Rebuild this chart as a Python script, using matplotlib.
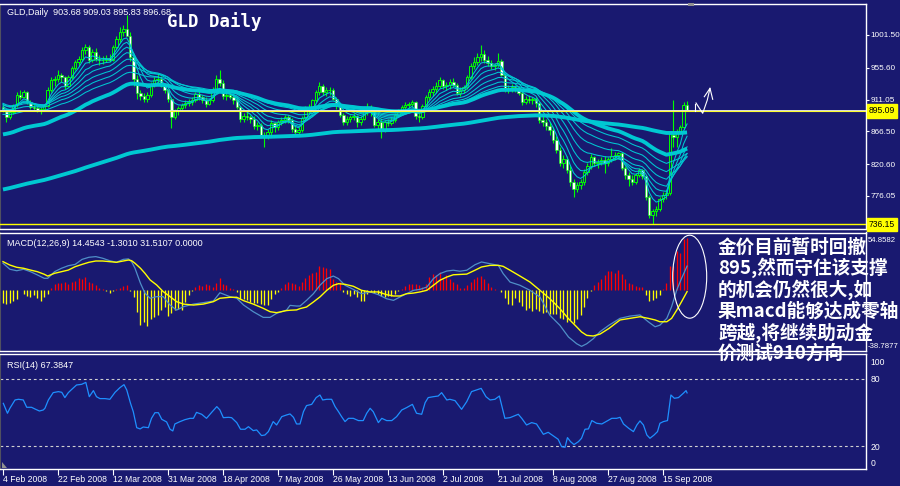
import numpy as np
import matplotlib.pyplot as plt
from matplotlib.patches import Ellipse, Polygon
from matplotlib.lines import Line2D

plt.rcParams['font.family'] = ['Liberation Sans', 'DejaVu Sans']

# ---- candles (one per bar, Sunday bars included) ----
opens = [900, 897, 886, 893, 903, 918, 915, 921, 908, 901,
         899, 896, 898, 902, 924, 938, 940, 945, 942, 930,
         942, 955, 963, 968, 980, 985, 966, 978, 968, 966,
         967, 969, 966, 985, 996, 1005, 1010, 1000, 970, 940,
         920, 916, 912, 918, 932, 938, 940, 930, 924, 912,
         886, 895, 899, 903, 906, 908, 910, 919, 914, 910,
         905, 910, 925, 940, 934, 916, 918, 915, 910, 900,
         884, 888, 886, 884, 874, 876, 862, 860, 866, 878,
         872, 879, 883, 886, 882, 870, 866, 868, 885, 898,
         900, 910, 922, 930, 922, 924, 925, 912, 902, 890,
         880, 884, 886, 888, 880, 884, 895, 900, 895, 876,
         880, 870, 879, 878, 883, 889, 895, 900, 903, 905,
         907, 888, 886, 902, 914, 922, 926, 930, 938, 930,
         932, 936, 932, 920, 924, 928, 942, 958, 964, 970,
         975, 966, 962, 958, 959, 965, 946, 925, 926, 929,
         927, 920, 908, 912, 910, 912, 906, 882, 880, 874,
         868, 855, 840, 822, 828, 812, 795, 786, 792, 796,
         810, 818, 830, 822, 824, 826, 822, 828, 832, 834,
         836, 815, 806, 800, 796, 805, 812, 804, 775, 750,
         755, 758, 772, 778, 780, 862, 858, 866, 872, 903.68]
highs = [905, 899, 896, 905, 922, 925, 924, 923, 911, 906,
         903, 901, 905, 928, 942, 944, 952, 948, 944, 945,
         958, 966, 972, 984, 989, 987, 982, 983, 974, 972,
         973, 975, 988, 1000, 1012, 1015, 1030, 1006, 975, 945,
         925, 920, 922, 936, 942, 948, 944, 934, 926, 914,
         898, 902, 906, 910, 912, 914, 922, 924, 918, 914,
         912, 928, 945, 952, 938, 922, 921, 918, 914, 902,
         892, 893, 890, 888, 880, 878, 866, 870, 882, 880,
         882, 886, 890, 889, 885, 874, 872, 888, 902, 905,
         912, 925, 935, 933, 928, 928, 927, 915, 905, 892,
         888, 890, 892, 890, 888, 898, 906, 903, 897, 884,
         885, 882, 884, 886, 892, 898, 903, 907, 908, 910,
         909, 892, 905, 918, 926, 930, 935, 942, 940, 935,
         940, 941, 934, 928, 932, 946, 962, 970, 976, 987,
         980, 972, 966, 962, 976, 968, 948, 932, 933, 932,
         930, 924, 916, 918, 915, 914, 908, 888, 884, 880,
         872, 860, 845, 834, 832, 818, 800, 796, 800, 814,
         822, 835, 832, 828, 830, 832, 830, 843, 838, 838,
         838, 818, 810, 805, 808, 815, 814, 806, 778, 758,
         762, 775, 782, 785, 866, 910, 870, 876, 908, 909.03]
lows = [893, 880, 884, 891, 901, 912, 913, 905, 898, 895,
        893, 891, 895, 900, 921, 930, 935, 936, 926, 928,
        940, 952, 958, 965, 975, 962, 964, 965, 960, 961,
        963, 964, 965, 982, 992, 1000, 1002, 965, 930, 912,
        910, 908, 908, 915, 928, 934, 928, 920, 908, 871,
        884, 890, 895, 899, 902, 903, 908, 910, 906, 900,
        903, 908, 922, 930, 912, 910, 912, 905, 898, 880,
        880, 883, 878, 870, 868, 858, 845, 856, 862, 866,
        868, 875, 878, 878, 866, 862, 862, 866, 882, 892,
        898, 908, 918, 918, 916, 917, 910, 898, 886, 876,
        876, 880, 882, 872, 876, 882, 890, 888, 872, 868,
        857, 866, 874, 875, 880, 886, 891, 896, 899, 900,
        884, 880, 884, 900, 910, 916, 920, 927, 926, 925,
        926, 928, 918, 916, 920, 926, 940, 954, 960, 965,
        962, 958, 954, 952, 956, 944, 922, 920, 921, 922,
        918, 904, 905, 906, 905, 900, 878, 874, 868, 862,
        850, 836, 818, 815, 808, 790, 775, 782, 786, 792,
        805, 814, 818, 815, 820, 808, 818, 824, 826, 828,
        812, 800, 790, 792, 793, 802, 800, 770, 745, 736.15,
        748, 755, 768, 772, 778, 845, 845, 864, 870, 895.83]
closes = [897, 886, 893, 903, 918, 915, 921, 908, 901, 899,
          896, 898, 902, 924, 938, 940, 945, 942, 930, 942,
          955, 963, 968, 980, 985, 966, 978, 968, 966, 967,
          969, 966, 985, 996, 1005, 1010, 1000, 970, 940, 920,
          916, 912, 918, 932, 938, 940, 930, 924, 912, 886,
          895, 899, 903, 906, 908, 910, 919, 914, 910, 905,
          910, 925, 940, 934, 916, 918, 915, 910, 900, 884,
          888, 886, 884, 874, 876, 862, 860, 866, 878, 872,
          879, 883, 886, 882, 870, 866, 868, 885, 898, 900,
          910, 922, 930, 922, 924, 925, 912, 902, 890, 880,
          884, 886, 888, 880, 884, 895, 900, 895, 876, 880,
          870, 879, 878, 883, 889, 895, 900, 903, 905, 907,
          888, 886, 902, 914, 922, 926, 930, 938, 930, 932,
          936, 932, 920, 924, 928, 942, 958, 964, 970, 975,
          966, 962, 958, 959, 965, 946, 925, 926, 929, 927,
          920, 908, 912, 910, 912, 906, 882, 880, 874, 868,
          855, 840, 822, 828, 812, 795, 786, 792, 796, 810,
          818, 830, 822, 824, 826, 822, 828, 832, 834, 836,
          815, 806, 800, 796, 805, 812, 804, 775, 750, 755,
          758, 772, 778, 780, 864, 858, 866, 872, 904, 896.68]

# moving averages: periods and their starting values read at the first bar
fan_periods = [5, 8, 12, 17, 24, 32, 42]
fan_seeds = [898, 903, 906, 907, 904, 898, 890]
slow_periods = [55, 200]
slow_seeds = [861, 784]
support_level = 895.09
low_level = 736.15
price_ticks = [1001.50, 955.60, 911.05, 866.50, 820.60, 776.05]

# ---- MACD (Chinese style: bar = 2 * (DIF - DEA)) ----
macd_hist = [-8.2, -9.1, -8.2, -7.0, -6.0, -0.5, -2.9, -4.1, -4.5, -3.5,
             -5.0, -7.0, -4.5, -2.9, 0.8, 3.7, 4.3, 4.1, 4.7, 3.7,
             4.7, 5.5, 7.2, 6.5, 7.8, 4.7, 4.1, 2.7, 1.2, 0.3,
             -0.8, -2.1, -1.0, 0.5, 1.2, 2.1, 2.7, -1.0, -4.5, -14.0,
             -22.0, -20.0, -22.6, -18.5, -17.0, -15.8, -12.8, -10.7, -16.5, -14.4,
             -12.8, -12.3, -12.8, -7.6, -3.5, -1.0, 1.6, 2.7, 2.1, 3.7,
             2.7, 1.6, 4.0, 6.8, 3.7, 2.7, 1.2, 0.4, -1.4, -5.6,
             -5.6, -6.5, -7.6, -8.6, -8.2, -9.1, -9.7, -9.7, -6.0, -2.5,
             -1.4, 1.2, 3.3, 4.7, 4.3, 3.5, 2.1, 4.5, 7.2, 9.1,
             10.3, 11.1, 14.4, 13.8, 13.0, 12.8, 6.6, 4.9, 4.5, -1.6,
             -2.7, -3.7, -2.7, -4.5, -6.8, -6.8, -2.7, -1.6, -2.2, -2.7,
             -3.7, -4.7, -4.2, -3.7, -2.7, -1.2, 0.5, 2.1, 3.5, 3.5,
             3.5, 2.5, 1.4, 3.5, 7.6, 9.7, 9.1, 10.7, 6.6, 9.1,
             6.6, 4.9, 3.5, 0.8, 0.8, 2.5, 4.5, 6.6, 7.6, 8.2,
             6.6, 4.1, 1.4, 0.3, -0.5, -1.6, -5.3, -8.8, -9.5, -5.3,
             -8.0, -10.0, -12.6, -11.5, -13.0, -11.9, -13.0, -14.4, -14.0, -15.0,
             -15.0, -15.0, -17.7, -18.5, -19.8, -19.1, -20.6, -18.5, -16.0, -11.0,
             -5.3, -1.0, 2.9, 4.9, 6.2, 9.0, 11.3, 11.3, 10.3, 11.9,
             9.3, 6.6, 4.1, 3.1, 2.1, 1.8, 1.6, -3.1, -7.2, -6.6,
             -5.1, -3.1, 0.5, 4.1, 14.4, 14.4, 23.7, 22.6, 30.9, 31.5107]
macd_bars = [0, 2, 4, 6, 8, 10, 12, 13, 15, 17, 19, 21, 23, 25, 27, 29, 31, 33, 35,
             36.5, 37.4, 38.4, 40, 41.3, 42.8, 44.7, 46.6, 48.6, 50.5, 52.5, 55.4,
             58.3, 61.2, 63.1, 66, 68, 70, 72.8, 75.7, 77.7, 79.6, 82.5, 83.5, 85.4,
             86.4, 88.3, 90.3, 92.2, 94.2, 96.1, 97.6, 99.5, 101.9, 104.3, 106.8,
             109.2, 111.6, 113.6, 115.5, 117.4, 119.4, 121.3, 123.3, 125.2, 127.1,
             129.1, 131, 132.9, 134.9, 137.3, 139.2, 141.7, 144.1, 145.5, 147.5,
             150.4, 153.3, 156.2, 159.1, 162, 164.5, 166.9, 168.3, 169.8, 171.7,
             173.7, 176.3, 179.5, 182.4, 185.3, 187.7, 189.7, 191.1, 193.1, 194.5,
             196, 197.4, 199]
dif = [16.2, 12.5, 11.6, 12.5, 11.0, 9.0, 6.9, 6.9, 11.0, 13.1, 14.7, 15.5, 18.6, 19.9,
       20.3, 19.3, 17.8, 16.8, 18.6, 18.9, 17.2, 13.1, 3.8, -2.3, -5.4, -4.4, -4.4,
       -9.6, -12.7, -10.6, -9.0, -8.1, -7.1, -2.0, -4.4, -5.4, -9.6, -13.7, -17.2,
       -17.2, -14.7, -12.7, -9.8, -10.2, -10.2, -6.7, -2.6, 2.6, 6.7, 8.3, 6.7, 2.6,
       0.1, -2.6, -1.5, -3.2, -5.7, -6.7, -4.6, -2.6, -0.5, 0.1, 1.5, 6.7, 9.8, 11.4,
       11.9, 11.3, 11.9, 15.3, 17.0, 15.9, 14.9, 9.8, 4.6, 2.6, -0.5, -4.6, -15.9,
       -22.1, -29.3, -33.5, -35.1, -33.5, -30.4, -26.0, -22.0, -17.8, -16.4, -15.7,
       -19.9, -23.0, -22.0, -17.8, -10.6, -0.3, 6.9, 14.4543]
dea = [17.2, 15.1, 13.7, 13.1, 12.0, 11.0, 9.4, 8.3, 10.0, 11.0, 12.0, 14.1, 15.5, 16.8,
       17.6, 17.6, 17.2, 16.8, 17.6, 18.2, 17.8, 16.2, 13.1, 10.0, 5.9, 2.8, -1.3,
       -4.4, -7.5, -9.0, -9.6, -9.0, -7.5, -5.4, -4.8, -4.8, -6.9, -9.0, -11.6,
       -13.7, -14.3, -13.0, -12.8, -12.6, -11.8, -10.8, -7.7, -4.6, -0.5, 2.6, 3.6,
       3.2, 2.0, -0.5, -1.5, -1.5, -3.2, -4.0, -4.0, -2.6, -2.2, -1.5, -0.5, 2.6, 5.7,
       7.7, 9.1, 9.3, 9.5, 11.9, 13.9, 14.9, 14.9, 14.3, 11.9, 8.3, 4.6, -0.5, -5.7,
       -11.8, -18.0, -23.1, -26.2, -28.3, -28.7, -27.5, -24.0, -18.8, -17.8, -16.8,
       -17.8, -18.8, -19.9, -19.9, -17.8, -12.7, -7.5, -1.3010]

# ---- RSI(14) ----
rsi_bars = [0.1, 1.3, 2.0, 3.5, 4.5, 5.9, 6.9, 8.3, 9.3, 10.6, 11.7, 12.2, 13.2, 14.6,
            16.1, 17.1, 18.0, 19.0, 20.0, 21.4, 22.9, 24.1, 25.1, 26.3, 27.2, 28.2,
            29.7, 31.1, 32.6, 34.0, 35.2, 36.0, 37.1, 37.9, 38.9, 39.9, 40.8, 42.3,
            43.2, 44.2, 45.2, 46.2, 47.6, 48.6, 49.4, 50.0, 51.5, 52.9, 54.4, 55.4,
            56.3, 57.8, 59.2, 60.7, 62.2, 63.1, 64.1, 65.6, 66.5, 68.0, 69.1, 70.4,
            71.4, 72.8, 73.8, 75.2, 76.2, 77.2, 78.6, 79.6, 81.1, 82.5, 83.5, 84.5,
            85.4, 86.4, 87.4, 88.3, 89.8, 91.1, 92.2, 93.0, 94.2, 95.6, 96.6, 97.6,
            98.5, 99.5, 100.5, 101.9, 103.4, 104.8, 105.8, 106.8, 107.7, 109.2,
            110.2, 111.6, 113.1, 114.5, 116.0, 117.4, 119.1, 120.3, 121.8, 122.8,
            123.7, 125.2, 126.6, 127.6, 129.1, 130.0, 131.5, 133.4, 134.9, 136.3,
            137.8, 139.1, 140.5, 141.7, 143.1, 144.4, 146.0, 147.5, 149.9, 150.9,
            152.3, 153.8, 155.2, 157.2, 158.6, 160.1, 161.5, 162.5, 163.5, 164.2,
            165.1, 166.1, 167.4, 168.3, 169.3, 170.3, 171.3, 172.7, 174.2, 175.6,
            177.1, 178.5, 179.5, 180.5, 182.0, 183.4, 184.4, 185.3, 186.3, 187.3,
            188.2, 189.4, 190.4, 191.1, 192.1, 193.3, 193.9, 194.3, 195.3, 196.5,
            197.9, 198.7, 199.0]
rsi_vals = [58.1, 49.3, 53.7, 61.1, 61.7, 61.1, 54.6, 54.6, 53.1, 51.3, 52.2, 53.7, 61.1,
            67.6, 68.5, 67.9, 63.2, 67.6, 70.5, 74.4, 75.0, 76.7, 64.0, 69.4, 64.0, 62.3,
            62.3, 61.7, 67.9, 72.0, 74.7, 70.0, 58.1, 50.7, 36.5, 35.4, 37.1, 36.5, 44.8,
            49.8, 49.8, 43.9, 41.6, 35.1, 33.6, 39.8, 41.9, 43.6, 44.8, 44.8, 50.1, 48.4,
            44.8, 50.1, 55.2, 52.2, 45.4, 45.7, 45.4, 41.0, 35.1, 35.1, 37.4, 33.9, 34.5,
            29.5, 30.0, 33.0, 41.9, 38.9, 46.3, 47.8, 48.7, 45.7, 39.8, 39.8, 50.7, 56.1,
            57.2, 63.2, 65.5, 61.1, 61.7, 61.7, 55.2, 50.7, 46.3, 41.9, 44.8, 44.8, 42.8,
            42.8, 49.3, 53.7, 50.7, 41.0, 44.8, 42.8, 42.8, 46.3, 52.2, 54.3, 57.2, 49.3,
            48.4, 58.7, 63.2, 64.0, 64.6, 67.6, 61.1, 61.7, 60.5, 52.8, 59.6, 68.5, 70.0,
            71.4, 64.0, 61.1, 61.7, 64.6, 44.8, 45.4, 48.4, 44.8, 38.9, 41.0, 39.8, 30.6,
            32.4, 29.2, 26.2, 19.7, 19.1, 27.7, 24.1, 21.5, 24.1, 27.1, 35.1, 35.4, 42.8,
            40.4, 39.8, 42.2, 44.8, 44.8, 45.7, 39.8, 36.0, 33.0, 38.9, 42.5, 38.9, 30.0,
            27.1, 30.0, 33.0, 40.4, 41.9, 42.8, 56.6, 65.5, 62.6, 63.2, 67.0, 69.4, 67.3847]

date_bars = [0, 16, 32, 48, 64, 80, 96, 112, 128, 144, 160, 176, 192]
date_labels = ['4 Feb 2008', '22 Feb 2008', '12 Mar 2008', '31 Mar 2008', '18 Apr 2008',
               '7 May 2008', '26 May 2008', '13 Jun 2008', '2 Jul 2008', '21 Jul 2008',
               '8 Aug 2008', '27 Aug 2008', '15 Sep 2008']

note_lines = ['金价目前暂时回撤', '895,然而守住该支撑', '的机会仍然很大,如',
              '果macd能够达成零轴', '跨越,将继续助动金', '价测试910方向']

BG = '#191970'
CYAN = '#00c8d2'
GREEN = '#00ff00'
W, H = 900, 486
SMALL = 6.2


def box(x0, y0, x1, y1):
    return [x0 / W, 1 - y1 / H, (x1 - x0) / W, (y1 - y0) / H]


def fpt(x, y):
    return x / W, 1 - y / H


def ema(values, period, seed):
    k = 2.0 / (period + 1)
    out, prev = [], seed
    for v in values:
        prev = prev + k * (v - prev)
        out.append(prev)
    return out


fig = plt.figure(figsize=(9, 4.86), dpi=100, facecolor=BG)
ax_p = fig.add_axes(box(0, 4, 866, 229))
ax_m = fig.add_axes(box(0, 232.5, 866, 351))
ax_r = fig.add_axes(box(0, 354, 866, 468.5))

for ax in (ax_p, ax_m, ax_r):
    ax.set_facecolor(BG)
    ax.set_xlim(-0.87, 251.05)
    for s in ('top', 'bottom', 'right'):
        ax.spines[s].set_color('white')
        ax.spines[s].set_linewidth(1.0)
    ax.spines['left'].set_color('#505060')
    ax.tick_params(axis='x', bottom=False, labelbottom=False)
    ax.tick_params(axis='y', left=False, labelleft=False, right=True, labelright=True,
                   colors='white', length=2.5, width=0.8, pad=0.8, labelsize=SMALL)

# ---- price panel ----
bars = np.arange(len(closes))
o = np.array(opens)
c = np.array(closes)
up = c >= o
lo = np.minimum(o, c)
hgt = np.maximum(np.abs(c - o), 0.9)
ax_p.vlines(bars, lows, highs, color=GREEN, lw=0.8, zorder=2)
ax_p.bar(bars[up], hgt[up], bottom=lo[up], width=0.7, facecolor=BG,
         edgecolor=GREEN, linewidth=0.7, zorder=2.5)
ax_p.bar(bars[~up], hgt[~up], bottom=lo[~up], width=0.7, facecolor='white',
         edgecolor=GREEN, linewidth=0.4, zorder=2.5)

for p, s in zip(fan_periods, fan_seeds):
    ax_p.plot(bars, ema(closes, p, s), color=CYAN, lw=0.75, zorder=3)
for p, s in zip(slow_periods, slow_seeds):
    ax_p.plot(bars, ema(closes, p, s), color=CYAN, lw=2.8, zorder=3,
              solid_capstyle='butt')

ax_p.axhline(support_level + 1.3, color='#e0e0e0', lw=0.7, zorder=4)
ax_p.axhline(support_level, color='#ffff30', lw=0.8, zorder=4)
ax_p.axhline(low_level, color='#ffff00', lw=1.0, zorder=4)

ax_p.set_ylim(729.8, 1044.9)
ax_p.set_yticks(price_ticks)
ax_p.set_yticklabels([f'{v:.2f}' for v in price_ticks], fontsize=5.9)
for lvl in (support_level, low_level):
    ax_p.text(1.0035, lvl, f'{lvl:.2f}', transform=ax_p.get_yaxis_transform(),
              ha='left', va='center', fontsize=SMALL, color='black', clip_on=False,
              bbox=dict(boxstyle='square,pad=0.25', facecolor='#ffff00', edgecolor='#ffff00'))

fig.text(*fpt(7, 15), 'GLD,Daily  903.68 909.03 895.83 896.68', color='white',
         fontsize=6.5, va='baseline')
fig.text(*fpt(167, 27), 'GLD Daily', color='white', fontsize=12.5, weight='bold',
         family='DejaVu Sans Mono', va='baseline')

# ---- MACD panel ----
ax_m.set_ylim(-37.96, 35.19)
hist_cols = ['#ff0000' if v > 0 else '#ffff00' for v in macd_hist]
ax_m.vlines(bars, 0, macd_hist, colors=hist_cols, lw=0.95, zorder=2)
ax_m.plot(macd_bars, dif, color='#4f8fc8', lw=0.9, zorder=3)
ax_m.plot(macd_bars, dea, color='#ffff00', lw=1.0, zorder=3)
ax_m.set_yticks([30.6, -34.3])
ax_m.set_yticklabels(['54.8582', '-38.7877'], fontsize=5.6)
ax_m.tick_params(axis='y', length=0, pad=1.5)
fig.text(*fpt(7, 246), 'MACD(12,26,9) 14.4543 -1.3010 31.5107 0.0000', color='white',
         fontsize=6.5, va='baseline')

# ---- RSI panel ----
ax_r.set_ylim(0.27, 101.9)
ax_r.axhline(80, color='#d0d0d0', lw=0.8, ls=(0, (2.5, 2.5)))
ax_r.axhline(20, color='#d0d0d0', lw=0.8, ls=(0, (2.5, 2.5)))
ax_r.plot(rsi_bars, rsi_vals, color='#1e90ff', lw=0.9, zorder=3)
ax_r.set_yticks([94.8, 80, 20, 6.0])
ax_r.set_yticklabels(['100', '80', '20', '0'])
ax_r.tick_params(axis='y', length=0, pad=3)
ax_r.set_xticks(date_bars)
ax_r.set_xticklabels(date_labels, ha='left')
ax_r.tick_params(axis='x', bottom=True, labelbottom=True, colors='white', length=4,
                 width=0.8, pad=1, labelsize=SMALL)
fig.text(*fpt(7, 368), 'RSI(14) 67.3847', color='white', fontsize=6.5, va='baseline')

# ---- annotations ----
fig.add_artist(Ellipse(fpt(689.7, 276.7), 34 / W, 83 / H, transform=fig.transFigure,
                       fill=False, edgecolor='white', lw=0.8))
for seg in ([(695, 104), (695, 111.5)],
            [(696, 103), (702.7, 113.3), (707.3, 100), (710, 88.3)],
            [(704.3, 96.7), (710, 88.3), (712.7, 99.3)]):
    xs, ys = zip(*[fpt(x, y) for x, y in seg])
    fig.add_artist(Line2D(xs, ys, transform=fig.transFigure, color='white', lw=0.8))

fig.add_artist(Polygon([fpt(2, 468), fpt(2, 462), fpt(7, 468)], closed=True,
                       transform=fig.transFigure, facecolor='#909090', edgecolor='none'))
fig.add_artist(Polygon([fpt(688, 3), fpt(694, 3), fpt(694, 6.5), fpt(688, 6.5)], closed=True,
                       transform=fig.transFigure, facecolor='#909090', edgecolor='none'))

baselines = [253, 274, 295.5, 317, 338.5, 359]
for txt, yb in zip(note_lines, baselines):
    fig.text(*fpt(718, yb), txt, color='white', fontsize=13.4, weight='bold',
             family=['Noto Sans CJK SC', 'DejaVu Sans'], va='baseline', zorder=10)

fig.savefig('out.png', dpi=100, facecolor=BG)
